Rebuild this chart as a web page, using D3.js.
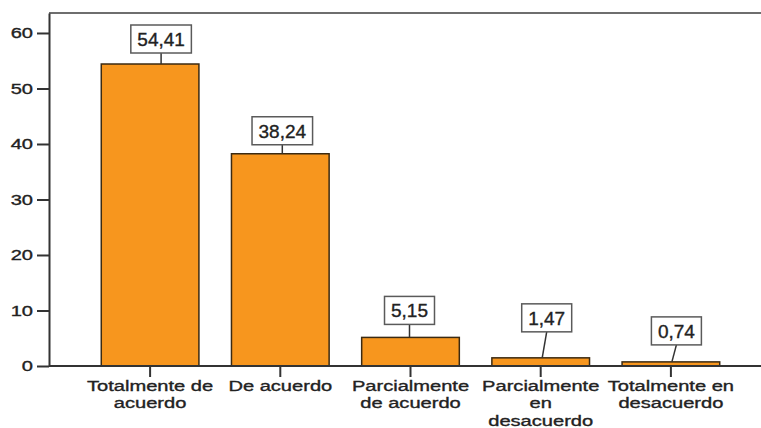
<!DOCTYPE html>
<html>
<head>
<meta charset="utf-8">
<script src="https://cdn.jsdelivr.net/npm/d3@7"></script>
<style>
  body { margin: 0; background: #fff; }
  svg { display: block; font-family: "Liberation Sans", Arial, sans-serif; }
  svg text { stroke: #222; stroke-width: 0.35px; }
</style>
</head>
<body>
<svg width="761" height="428"></svg>
<script>
const categories = [
  "Totalmente de acuerdo",
  "De acuerdo",
  "Parcialmente de acuerdo",
  "Parcialmente en desacuerdo",
  "Totalmente en desacuerdo"
];
const categoryLines = [
  ["Totalmente de", "acuerdo"],
  ["De acuerdo"],
  ["Parcialmente", "de acuerdo"],
  ["Parcialmente", "en", "desacuerdo"],
  ["Totalmente en", "desacuerdo"]
];
const percentages = [54.41, 38.24, 5.15, 1.47, 0.74];
const valueLabels = ["54,41", "38,24", "5,15", "1,47", "0,74"];
const yTicks = [0, 10, 20, 30, 40, 50, 60];

// where SPSS put each value box relative to its bar (dx of box, gap above bar, foot of connector)
const labelLayout = [
  { dx: 11, gap: 11, foot: 11 },
  { dx: 2, gap: 9, foot: 2 },
  { dx: -1, gap: 13, foot: -1 },
  { dx: 6, gap: 26, foot: 1.5 },
  { dx: 5.5, gap: 17, foot: 1 }
];

const width = 761;
const plotLeft = 49;
const plotTop = 13;
const baseY = 366;
const stretch = 1.34; // the axis text in the picture is stretched sideways

const svg = d3.select("svg");

const x = d3
  .scaleBand()
  .domain(categories)
  .range([85, 736])
  .paddingInner(0.25)
  .paddingOuter(0.125);

const y = d3
  .scaleLinear()
  .domain([0, 63.6])
  .range([baseY, plotTop]);

// top frame line
svg
  .append("line")
  .attr("x1", plotLeft)
  .attr("x2", width)
  .attr("y1", plotTop)
  .attr("y2", plotTop)
  .attr("stroke", "#6e6e6e")
  .attr("stroke-width", 2);

// bars
svg
  .append("g")
  .selectAll("rect")
  .data(percentages)
  .join("rect")
  .attr("x", (d, i) => x(categories[i]))
  .attr("y", d => y(d))
  .attr("width", x.bandwidth())
  .attr("height", d => baseY - y(d))
  .attr("fill", "#f7961e")
  .attr("stroke", "#3b2a12")
  .attr("stroke-width", 1.5);

// y axis
const yAxis = d3
  .axisLeft(y)
  .tickValues(yTicks)
  .tickSize(12)
  .tickSizeOuter(0);

const gy = svg
  .append("g")
  .attr("transform", `translate(${plotLeft},0)`)
  .call(yAxis);
gy.select(".domain").attr("stroke", "#333").attr("stroke-width", 2);
gy.selectAll(".tick line").attr("stroke", "#333").attr("stroke-width", 2);
gy.selectAll(".tick text")
  .attr("font-family", "'Liberation Sans', Arial, sans-serif")
  .attr("font-size", 15)
  .attr("fill", "#222")
  .attr("x", -16 / stretch)
  .attr("transform", `scale(${stretch},1)`);

// x axis
const xAxis = d3
  .axisBottom(x)
  .tickSize(11)
  .tickSizeOuter(0)
  .tickFormat("");

const gx = svg
  .append("g")
  .attr("transform", `translate(0,${baseY})`)
  .call(xAxis);
gx.select(".domain").remove();
gx.selectAll(".tick line").attr("stroke", "#333").attr("stroke-width", 2);
gx.append("line")
  .attr("x1", plotLeft)
  .attr("x2", width)
  .attr("stroke", "#333")
  .attr("stroke-width", 2);

gx.selectAll(".tick text").remove();
gx.selectAll(".tick")
  .append("text")
  .attr("transform", `scale(${stretch},1)`)
  .attr("text-anchor", "middle")
  .attr("font-size", 15)
  .attr("fill", "#222")
  .selectAll("tspan")
  .data((d, i) => categoryLines[i])
  .join("tspan")
  .attr("x", 0)
  .attr("y", (d, i) => 25 + i * 17.5)
  .text(d => d);

// value boxes
const labels = svg
  .append("g")
  .selectAll("g")
  .data(percentages)
  .join("g");

labels.each(function(d, i) {
  const g = d3.select(this);
  const lay = labelLayout[i];
  const cx = x(categories[i]) + x.bandwidth() / 2;
  const boxCx = cx + lay.dx;
  const boxBottom = y(d) - lay.gap;
  const boxH = 28;

  g.append("line")
    .attr("x1", boxCx)
    .attr("y1", boxBottom)
    .attr("x2", cx + lay.foot)
    .attr("y2", y(d))
    .attr("stroke", "#333")
    .attr("stroke-width", 1.5);

  const rect = g.append("rect");
  const text = g
    .append("text")
    .attr("x", boxCx)
    .attr("y", boxBottom - boxH / 2 + 6.8)
    .attr("text-anchor", "middle")
    .attr("font-size", 19)
    .attr("fill", "#222")
    .text(valueLabels[i]);

  const w = text.node().getComputedTextLength() + 13;
  rect
    .attr("x", boxCx - w / 2)
    .attr("y", boxBottom - boxH)
    .attr("width", w)
    .attr("height", boxH)
    .attr("fill", "#fff")
    .attr("stroke", "#5a5a5a")
    .attr("stroke-width", 1.5);
});
</script>
</body>
</html>
